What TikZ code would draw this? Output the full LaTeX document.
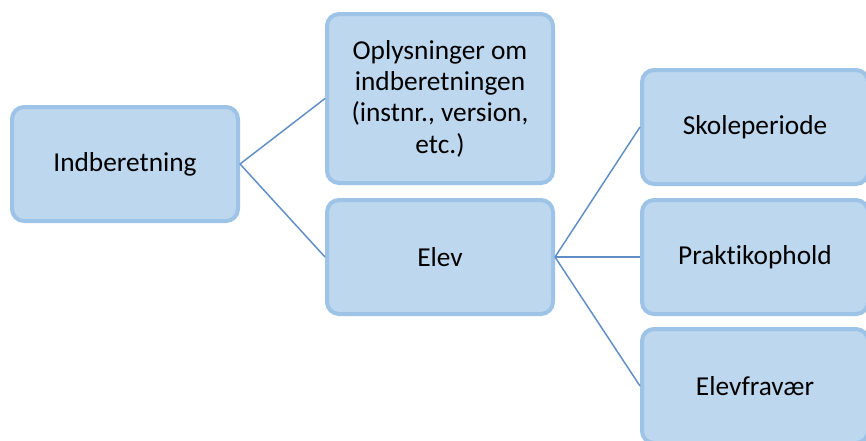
\documentclass[tikz,border=0pt]{standalone}
\usepackage{fontspec}
\setmainfont{Carlito}[Ligatures=NoCommon]
\usepackage{tikz}
\definecolor{boxfill}{RGB}{189,215,238}
\definecolor{boxline}{RGB}{157,195,230}
\definecolor{linkblue}{RGB}{96,142,196}

\begin{document}
\begin{tikzpicture}[x=0.75pt,y=-0.75pt,
  box/.style={draw=boxline,fill=boxfill,line width=3pt,rounded corners=9pt,
    minimum width=169.5pt,minimum height=85.5pt,inner sep=0pt,
    align=center,font=\fontsize{20.5}{23.5}\selectfont},
  link/.style={linkblue,line width=1.1pt}]
% page size
\useasboundingbox (0,0) rectangle (866,440);
\clip (0,0) rectangle (866,440);

% level 0
\node[box] (ind) at (125,164) {Indberetning};

% level 1
\node[box,minimum height=126.75pt] (opl) at (440,98.5) {Oplysninger om\\indberetningen\\(instnr., version,\\etc.)};
\node[box] (elev) at (440,257) {Elev};

% level 2
\node[box] (skole) at (755,127) {Skoleperiode};
\node[box] (prakt) at (755,257) {Praktikophold};
\node[box] (frav) at (755,386) {Elevfravær};

% connectors
\draw[link] (ind.east) -- (opl.west);
\draw[link] (ind.east) -- (elev.west);
\draw[link] (elev.east) -- (skole.west);
\draw[link] (elev.east) -- (prakt.west);
\draw[link] (elev.east) -- (frav.west);
\end{tikzpicture}
\end{document}
